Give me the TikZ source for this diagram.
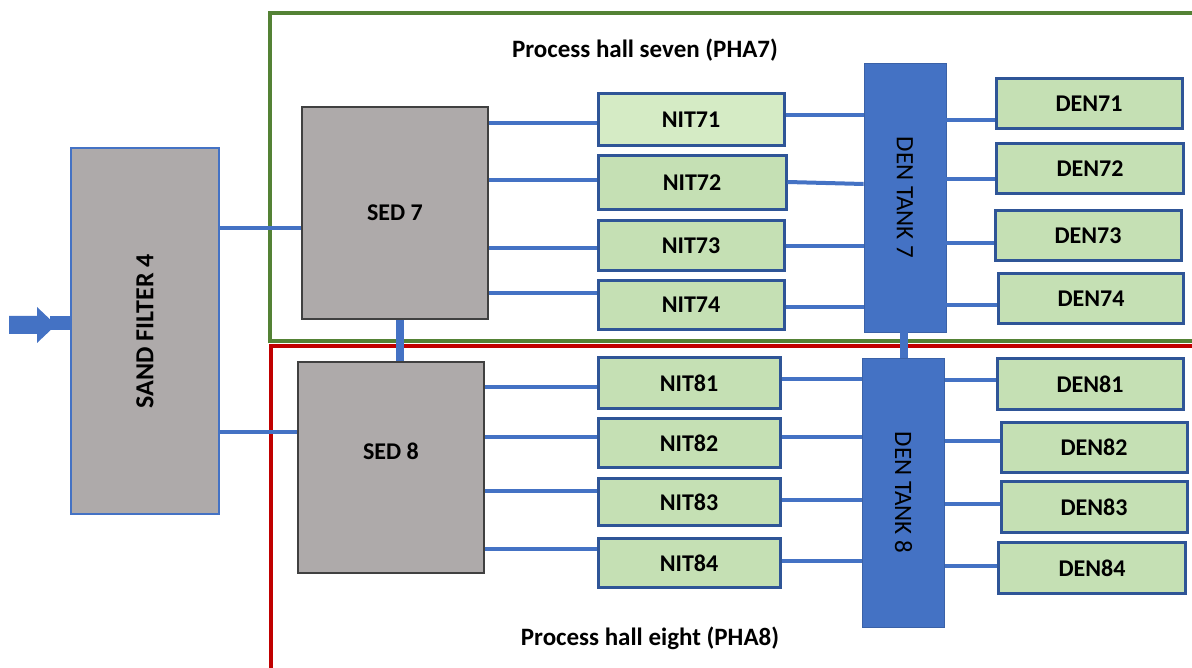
\documentclass[tikz,border=0pt]{standalone}
\usepackage{fontspec}
\setmainfont{Carlito}
\definecolor{gbox}{HTML}{AEAAAA}
\definecolor{lblue}{HTML}{4472C4}
\definecolor{dblue}{HTML}{2F5597}
\definecolor{gfill}{HTML}{C5E0B4}
\definecolor{gfilllight}{HTML}{D5EBC5}
\definecolor{hallgreen}{HTML}{548235}
\definecolor{hallred}{HTML}{C00000}
\begin{document}
\begin{tikzpicture}[x=1pt,y=-1pt,
  graybox/.style={draw=#1,line width=1.2pt,fill=gbox,inner sep=0pt,
    font=\fontsize{24}{28}\selectfont\bfseries},
  nitbox/.style={draw=dblue,line width=3pt,fill=gfill,inner sep=0pt,
    font=\fontsize{24}{28}\selectfont\bfseries},
  tankbox/.style={draw=lblue!85!black,line width=0.8pt,fill=lblue,inner sep=0pt},
  tanklabel/.style={rotate=-90,font=\fontsize{25}{29}\selectfont},
  pipe/.style={draw=lblue,line width=4pt},
  link/.style={draw=lblue,line width=8pt},
  hall/.style={line width=4.5pt},
  title/.style={font=\fontsize{25}{29}\selectfont\bfseries}]
\useasboundingbox (0,0) rectangle (1192,668);
\begin{scope}
\clip (0,0) rectangle (1192,668);
% halls
\draw[hall,draw=hallgreen] (1210,13) -- (270,13) -- (270,341) -- (1210,341);
\draw[hall,draw=hallred] (1210,346) -- (271,346) -- (271,690);
\end{scope}
\node[title] (t7) at (645,50) {Process hall seven (PHA7)};
\node[title] (t8) at (650,638) {Process hall eight (PHA8)};

% sand filter and sedimentation
\node[graybox=lblue,minimum width=148,minimum height=366] (SF) at (145,331) {};
\node[rotate=90,font=\fontsize{26}{30}\selectfont\bfseries] at (SF.center) {SAND FILTER 4};
\node[graybox=black!75,minimum width=186,minimum height=212] (S7) at (395,213) {SED 7};
\node[graybox=black!75,minimum width=186,minimum height=211] (S8) at (391,467.5) {};
\node[font=\fontsize{24}{28}\selectfont\bfseries] at (391,451) {SED 8};

% inlet arrow
\fill[lblue] (9,316) -- (37,316) -- (37,307) -- (56,325) -- (37,343) -- (37,334) -- (9,334) -- cycle;
\coordinate (inl) at (50,323);
\draw[lblue,line width=14pt] (inl) -- (SF.west |- inl);

% nitrification
\node[nitbox,fill=gfilllight,minimum width=186,minimum height=52] (N71) at (691,120) {NIT71};
\node[nitbox,minimum width=188,minimum height=54] (N72) at (692,183) {NIT72};
\node[nitbox,minimum width=186,minimum height=50] (N73) at (691,246) {NIT73};
\node[nitbox,minimum width=186,minimum height=49] (N74) at (691,305) {NIT74};
\node[nitbox,minimum width=182,minimum height=50] (N81) at (689,383) {NIT81};
\node[nitbox,minimum width=182,minimum height=49] (N82) at (689,443) {NIT82};
\node[nitbox,minimum width=182,minimum height=47] (N83) at (689,502) {NIT83};
\node[nitbox,minimum width=182,minimum height=49] (N84) at (689,563) {NIT84};

% tanks
\node[tankbox,minimum width=82,minimum height=269] (T7) at (905,197.5) {};
\node[tanklabel] at (T7.center) {DEN TANK 7};
\node[tankbox,minimum width=82,minimum height=269] (T8) at (903.5,492.5) {};
\node[tanklabel] at (T8.center) {DEN TANK 8};

% denitrification
\node[nitbox,minimum width=186,minimum height=50] (D71) at (1089,104) {DEN71};
\node[nitbox,minimum width=187,minimum height=50] (D72) at (1090,169) {DEN72};
\node[nitbox,minimum width=186,minimum height=50] (D73) at (1088,236) {DEN73};
\node[nitbox,minimum width=185,minimum height=50] (D74) at (1091,299) {DEN74};
\node[nitbox,minimum width=186,minimum height=50] (D81) at (1090,384) {DEN81};
\node[nitbox,minimum width=186,minimum height=50] (D82) at (1094,447) {DEN82};
\node[nitbox,minimum width=186,minimum height=51] (D83) at (1094,507) {DEN83};
\node[nitbox,minimum width=187,minimum height=51] (D84) at (1092,568) {DEN84};

% links between halls
\draw[link] (S7.south -| 400,0) -- (S8.north -| 400,0);
\draw[link] (T7.south -| 904,0) -- (T8.north -| 904,0);

% pipes sand filter -> sed
\draw[pipe] (SF.east |- 0,228) -- (S7.west |- 0,228);
\draw[pipe] (SF.east |- 0,432) -- (S8.west |- 0,432);

% sed -> nit
\draw[pipe] (S7.east |- 0,123) -- (N71.west |- 0,123);
\draw[pipe] (S7.east |- 0,180) -- (N72.west |- 0,180);
\draw[pipe] (S7.east |- 0,248) -- (N73.west |- 0,248);
\draw[pipe] (S7.east |- 0,293) -- (N74.west |- 0,293);
\draw[pipe] (S8.east |- 0,387) -- (N81.west |- 0,387);
\draw[pipe] (S8.east |- 0,437) -- (N82.west |- 0,437);
\draw[pipe] (S8.east |- 0,491) -- (N83.west |- 0,491);
\draw[pipe] (S8.east |- 0,549) -- (N84.west |- 0,549);

% nit -> tank
\draw[pipe] (N71.east |- 0,115) -- (T7.west |- 0,115);
\draw[pipe] (N72.east |- 0,182) -- (T7.west |- 0,184);
\draw[pipe] (N73.east |- 0,246) -- (T7.west |- 0,246);
\draw[pipe] (N74.east |- 0,307) -- (T7.west |- 0,307);
\draw[pipe] (N81.east |- 0,379) -- (T8.west |- 0,379);
\draw[pipe] (N82.east |- 0,437) -- (T8.west |- 0,437);
\draw[pipe] (N83.east |- 0,500) -- (T8.west |- 0,500);
\draw[pipe] (N84.east |- 0,561) -- (T8.west |- 0,561);

% tank -> den
\draw[pipe] (T7.east |- 0,120) -- (D71.west |- 0,120);
\draw[pipe] (T7.east |- 0,179) -- (D72.west |- 0,179);
\draw[pipe] (T7.east |- 0,243) -- (D73.west |- 0,243);
\draw[pipe] (T7.east |- 0,305) -- (D74.west |- 0,305);
\draw[pipe] (T8.east |- 0,380) -- (D81.west |- 0,380);
\draw[pipe] (T8.east |- 0,441) -- (D82.west |- 0,441);
\draw[pipe] (T8.east |- 0,504) -- (D83.west |- 0,504);
\draw[pipe] (T8.east |- 0,566) -- (D84.west |- 0,566);
\end{tikzpicture}
\end{document}
